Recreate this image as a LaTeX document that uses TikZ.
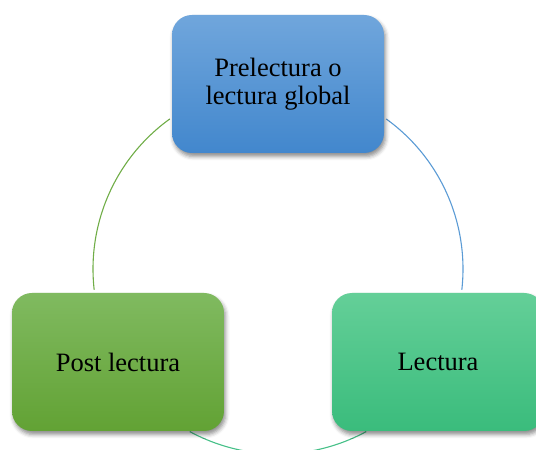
\documentclass[tikz,border=0pt]{standalone}
\usepackage{fontspec}
\setmainfont{Liberation Serif}
\usetikzlibrary{shadows.blur}
\definecolor{blueT}{RGB}{112,166,220}
\definecolor{blueB}{RGB}{66,135,205}
\definecolor{greenT}{RGB}{128,186,96}
\definecolor{greenB}{RGB}{98,162,52}
\definecolor{tealT}{RGB}{100,207,152}
\definecolor{tealB}{RGB}{58,188,124}
\definecolor{arcG}{RGB}{112,173,71}
\definecolor{arcB}{RGB}{91,155,213}
\definecolor{arcT}{RGB}{70,192,136}
\tikzset{
  stagebox/.style={draw=none, rounded corners=20pt, minimum width=212pt, minimum height=138pt,
    inner sep=0pt, align=center, text=black,
    font=\fontsize{26.5}{28.5}\selectfont,
    blur shadow={shadow xshift=1.5pt, shadow yshift=-3.5pt, shadow blur radius=4pt, shadow opacity=45}},
  cyclearc/.style={line width=1.1pt}
}
\begin{document}
\begin{tikzpicture}[x=1pt,y=1pt]
\useasboundingbox (0,0) rectangle (536,450);
\coordinate (c) at (278,181);
\draw[cyclearc, arcG] (c) ++(125.8:185) arc (125.8:186.5:185);
\draw[cyclearc, arcB] (c) ++(54.2:185) arc (54.2:-6.5:185);
\draw[cyclearc, arcT] (c) ++(241.5:185) arc (241.5:298.5:185);
\node[stagebox, top color=blueT, bottom color=blueB] (pre) at (278,366) {Prelectura o\\lectura global};
\node[stagebox, top color=greenT, bottom color=greenB] (post) at (118,88) {Post lectura};
\node[stagebox, top color=tealT, bottom color=tealB] (lec) at (438,88) {Lectura};
\end{tikzpicture}
\end{document}
